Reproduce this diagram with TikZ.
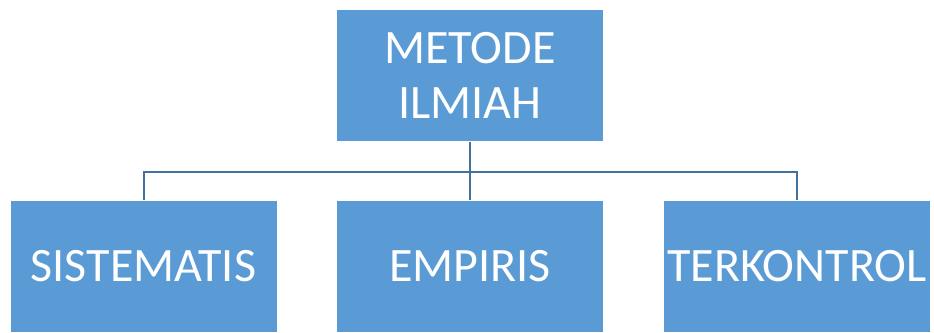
\documentclass[tikz,border=0pt]{standalone}
\usepackage{fontspec}
\setmainfont{Carlito}
\usepackage{tikz}
\usetikzlibrary{positioning,calc}

\definecolor{boxblue}{HTML}{5B9BD5}
\definecolor{lineblue}{HTML}{41719C}

\begin{document}
\begin{tikzpicture}[x=1pt, y=1pt,
            every node/.style={fill=boxblue, draw=white, thin, text=white,
                minimum width=267pt, minimum height=132pt, inner sep=0pt,
                font=\fontsize{48}{55}\selectfont, align=center},
            link/.style={draw=lineblue, line width=2pt}]
        \useasboundingbox (0,0) rectangle (934,332);
        \node (metode) at (470,256.5) {METODE\\ILMIAH};
        \node (sistematis) at (143.5,65.5) {SISTEMATIS};
        \node (empiris) at (470,65.5) {EMPIRIS};
        \node (terkontrol) at (797,65.5) {TERKONTROL};
        \coordinate (hub) at (470,160);
        \draw[link] (metode.south) -- (hub);
        \draw[link] (hub) -| (sistematis.north);
        \draw[link] (hub) -| (terkontrol.north);
        \draw[link] (hub) -- (empiris.north);
\end{tikzpicture}
\end{document}
